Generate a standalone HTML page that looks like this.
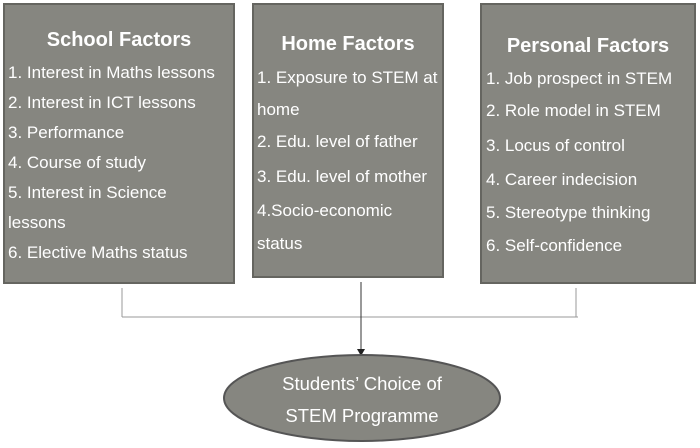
<!DOCTYPE html>
<html><head><meta charset="utf-8"><style>
html,body{margin:0;padding:0;background:#fff;width:700px;height:448px;overflow:hidden}
svg text{font-family:"Liberation Sans",sans-serif;fill:#fff}
</style></head><body>
<svg width="700" height="448" viewBox="0 0 700 448" xmlns="http://www.w3.org/2000/svg">
<g fill="#868680" stroke="#656560" stroke-width="2">
<rect x="4" y="4" width="230" height="279"/>
<rect x="253" y="4" width="190" height="273"/>
<rect x="481" y="4" width="214" height="279"/>
</g>
<g stroke="#999" stroke-width="1" fill="none">
<line x1="122" y1="288" x2="122" y2="317"/>
<line x1="576" y1="288" x2="576" y2="317"/>
<line x1="122" y1="317" x2="578" y2="317"/>
</g>
<line x1="361" y1="282" x2="361" y2="350" stroke="#333" stroke-width="1"/>
<polygon points="357,349 365,349 361,356" fill="#222"/>
<ellipse cx="362" cy="398" rx="138" ry="43" fill="#868680" stroke="#555" stroke-width="2"/>
<g font-size="20" font-weight="bold" text-anchor="middle">
<text x="119" y="46">School Factors</text>
<text x="348" y="50">Home Factors</text>
<text x="588" y="52">Personal Factors</text>
</g>
<g font-size="17">
<text x="8" y="78">1. Interest in Maths lessons</text>
<text x="8" y="108">2. Interest in ICT  lessons</text>
<text x="8" y="138">3. Performance</text>
<text x="8" y="168">4. Course of study</text>
<text x="8" y="198">5. Interest in Science</text>
<text x="8" y="228">lessons</text>
<text x="8" y="258">6. Elective Maths status</text>
<text x="257" y="83">1. Exposure to STEM at</text>
<text x="257" y="115">home</text>
<text x="257" y="147">2. Edu. level of father</text>
<text x="257" y="182">3. Edu. level of mother</text>
<text x="257" y="216">4.Socio-economic</text>
<text x="257" y="249">status</text>
<text x="486" y="84">1. Job prospect  in STEM</text>
<text x="486" y="116">2. Role model in STEM</text>
<text x="486" y="151">3. Locus of control</text>
<text x="486" y="185">4. Career indecision</text>
<text x="486" y="218">5. Stereotype thinking</text>
<text x="486" y="251">6. Self-confidence</text>
</g>
<g font-size="18.5" text-anchor="middle">
<text x="362" y="390">Students’ Choice of</text>
<text x="362" y="422">STEM Programme</text>
</g>
</svg>
</body></html>
